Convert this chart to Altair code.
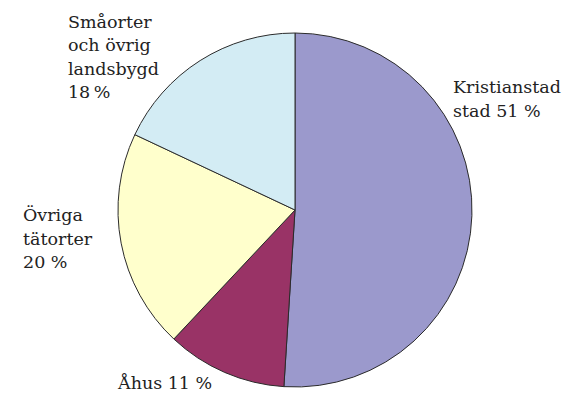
import altair as alt
import pandas as pd

categories = ["Kristianstad stad", "Åhus", "Övriga tätorter", "Småorter och övrig landsbygd"]
shares = [51, 11, 20, 18]
colors = ["#9b99cc", "#993366", "#ffffcc", "#d3ecf4"]
label_texts = [["Kristianstad", "stad 51 %"], ["Åhus 11 %"], ["Övriga", "tätorter", "20 %"],
               ["Småorter", "och övrig", "landsbygd", "18\u2009%"]]
# label anchor, polar (degrees clockwise from top, pixels from centre)
label_angle = [53.48, 224.68, 267.68, 308.72]
label_radius = [196.6, 251.7, 272.2, 291.0]

df = pd.DataFrame({"cat": categories, "share": shares, "order": list(range(len(categories)))})
lab = pd.DataFrame({"cat": categories, "text": label_texts, "ang": label_angle, "r": label_radius})

pie = alt.Chart(df).mark_arc(outerRadius=177, stroke="#2b2b2b", strokeWidth=1).encode(
    theta=alt.Theta("share:Q", stack=True),
    order=alt.Order("order:Q"),
    color=alt.Color("cat:N", scale=alt.Scale(domain=categories, range=colors), legend=None),
)

labels = alt.Chart(lab).mark_text(
    align="left", baseline="alphabetic", font="DejaVu Serif", fontSize=17.5,
    lineHeight=23.5, color="#222222"
).encode(
    theta=alt.Theta("ang:Q", stack=False, scale=alt.Scale(domain=[0, 360], range=[0, 6.283185307])),
    radius=alt.Radius("r:Q", scale=None),
    text="text",
)

chart = alt.layer(pie, labels).resolve_scale(theta="independent").properties(
    width=534, height=368,
    padding={"left": 20, "right": 0, "top": 18, "bottom": 0},
    autosize="none",
).configure_view(stroke=None)

chart.save("out.html", embed_options={"renderer": "svg", "actions": False})
